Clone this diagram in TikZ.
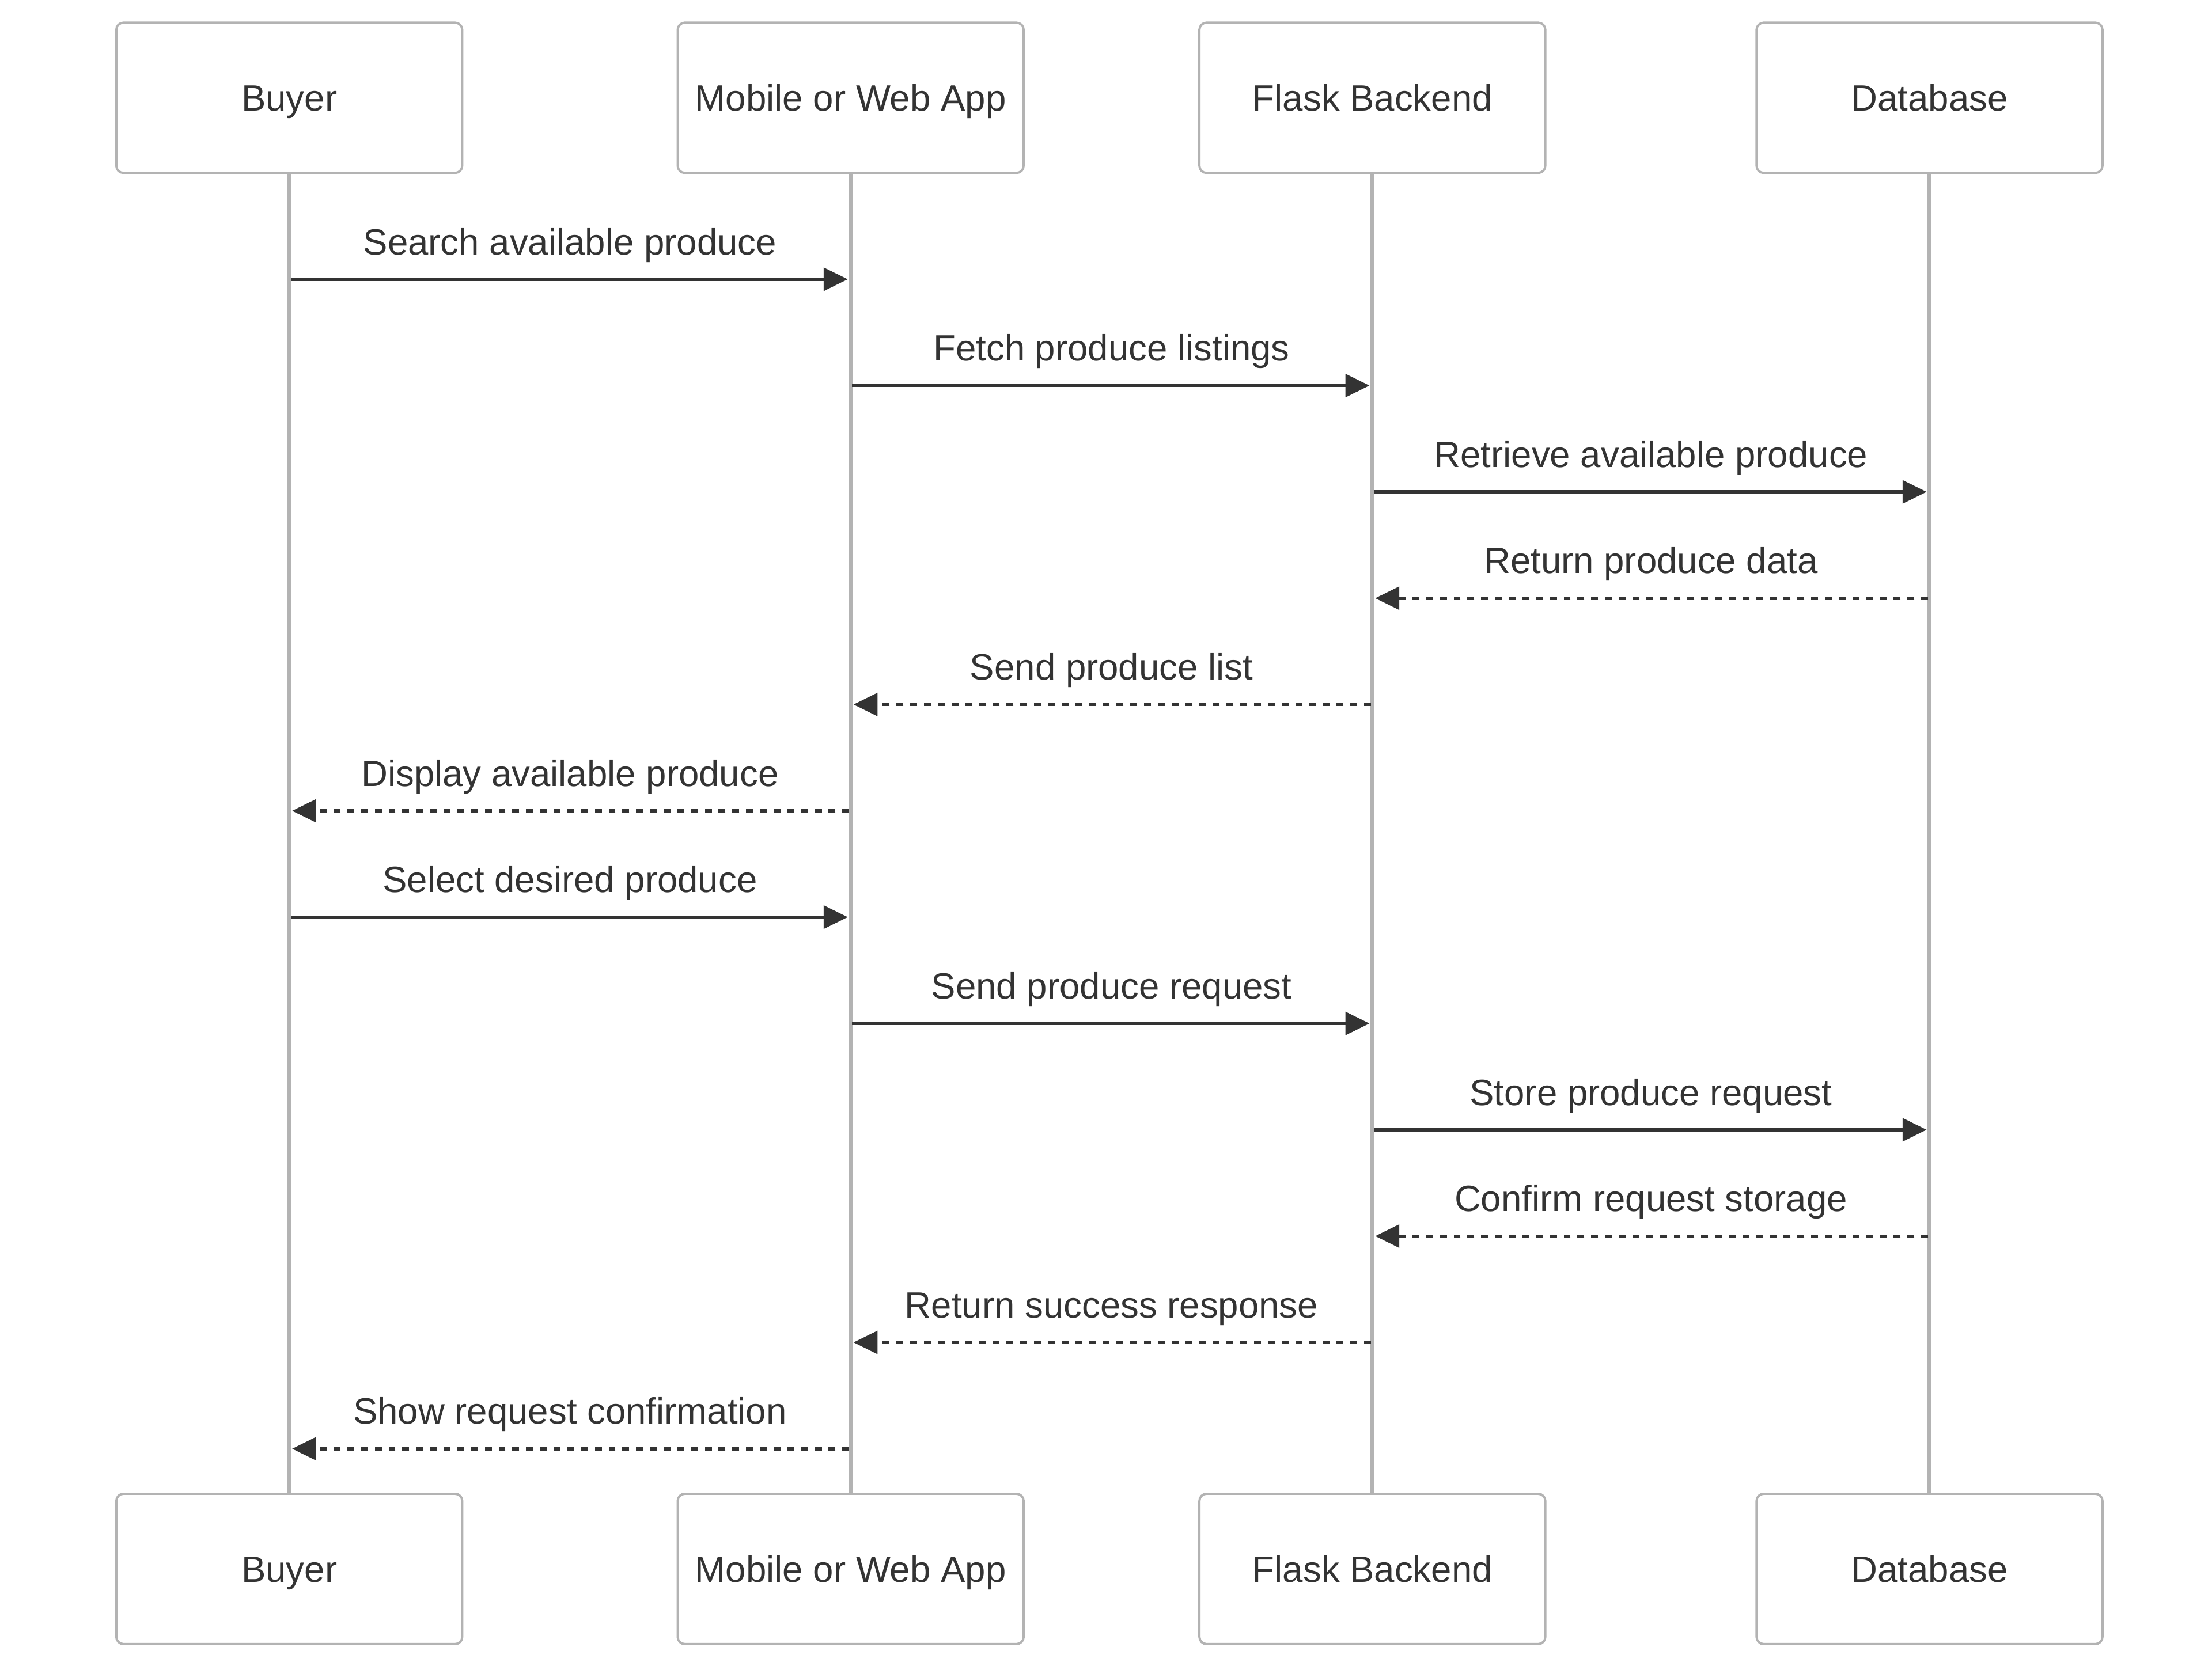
\documentclass[tikz,border=0pt]{standalone}
\usepackage{fontspec}
\setmainfont{Liberation Sans}
\usepackage{xcolor}
\usetikzlibrary{arrows.meta,positioning}

\definecolor{ink}{HTML}{333333}
\definecolor{linegray}{HTML}{B3B3B3}

\begin{document}
\begin{tikzpicture}[x=0.02cm,y=-0.02cm,font=\fontsize{14.7pt}{17pt}\selectfont,text=ink,
  actor/.style={draw=linegray, line width=0.032cm, rounded corners=0.1cm, fill=white, outer sep=0pt,
    minimum width=4.88cm, minimum height=2.12cm, inner sep=0pt, text height=10.5pt, text depth=0pt},
  life/.style={draw=linegray, line width=0.052cm},
  call/.style={draw=ink, line width=0.048cm, shorten <=0.02cm, shorten >=0.04cm,
    -{Triangle[length=0.34cm,width=0.32cm]}},
  reply/.style={call, dash pattern=on 0.097cm off 0.097cm},
  msg/.style={anchor=base, yshift=0.348cm}]

\useasboundingbox (0,0) rectangle (1560,1175);

\node(buyer)[actor] at (204,69){Buyer};
\node(app)[actor, right =3.04cm of buyer]{Mobile or Web App};
\node(flask)[actor, right =2.48cm of app]{Flask Backend};
\node(db)[actor, right =2.98cm of flask]{Database};

\node(buyerB)[actor, below =18.64cm of buyer]{Buyer};
\node(appB)[actor, below =18.64cm of app]{Mobile or Web App};
\node(flaskB)[actor, below =18.64cm of flask]{Flask Backend};
\node(dbB)[actor, below =18.64cm of db]{Database};

\foreach \p in {buyer, app, flask, db}
	\draw[life](\p)--(\p B);

\foreach \i/\a/\b/\txt/\st [evaluate=\i as \y using 122+75*\i] in {
	1/buyer/app/Search available produce/call,
	2/app/flask/Fetch produce listings/call,
	3/flask/db/Retrieve available produce/call,
	4/db/flask/Return produce data/reply,
	5/flask/app/Send produce list/reply,
	6/app/buyer/Display available produce/reply,
	7/buyer/app/Select desired produce/call,
	8/app/flask/Send produce request/call,
	9/flask/db/Store produce request/call,
	10/db/flask/Confirm request storage/reply,
	11/flask/app/Return success response/reply,
	12/app/buyer/Show request confirmation/reply}
	\draw[\st](\a |- 0,\y)--(\b |- 0,\y) node[midway, msg]{\txt};

\end{tikzpicture}
\end{document}
